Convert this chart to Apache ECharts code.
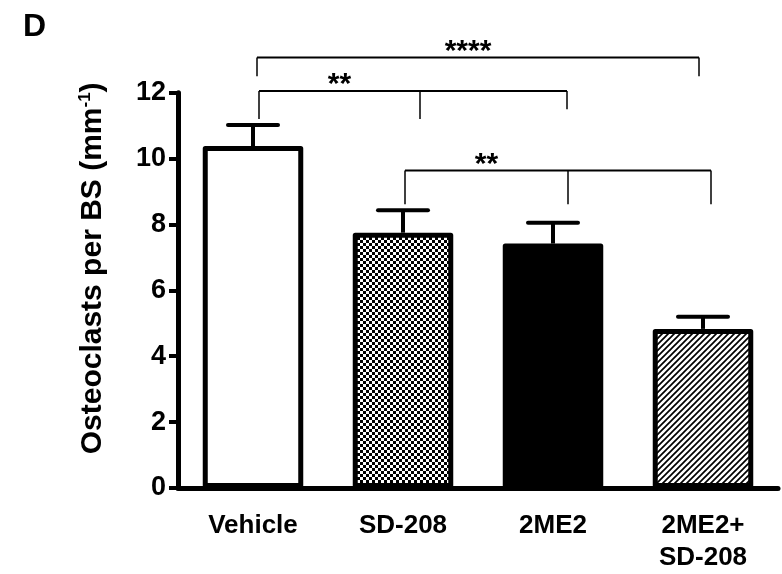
<!DOCTYPE html>
<html>
<head>
<meta charset="utf-8">
<script src="https://cdn.jsdelivr.net/npm/echarts@6/dist/echarts.min.js"></script>
<style>
  html, body { margin: 0; padding: 0; background: #fff; }
  #chart { width: 782px; height: 574px; }
</style>
</head>
<body>
<div id="chart"></div>
<script>
// data
const categories = ['Vehicle', 'SD-208', '2ME2', '2ME2+\nSD-208'];
const means = [10.38, 7.75, 7.42, 4.83];
const sems = [0.64, 0.68, 0.63, 0.37];
const yMin = 0, yMax = 12, yStep = 2;

// significance brackets: category indexes, level and drop ends in y units
const sigFrom = [0, 0, 1];
const sigTo = [3, 2, 3];
const sigMid = [null, 1, 2];
const sigLevel = [13.07, 12.05, 9.64];
const sigDrop = [[12.5, 12.5], [11.2, 11.2, 11.5], [8.61, 8.61, 8.61]];
const sigText = ['****', '**', '**'];
// small pixel nudges of the bracket feet (from, mid, to) as drawn in the original
const sigNudge = [[4, -4], [6, 17, 14], [2, 15, 8]];

const FONT = '"Liberation Sans", Arial, sans-serif';

function checker() {
  let c = document.createElement('canvas');
  c.width = 6; c.height = 6;
  let g = c.getContext('2d');
  g.fillStyle = '#fff'; g.fillRect(0, 0, 6, 6);
  g.fillStyle = '#000';
  g.fillRect(0, 0, 3, 3);
  g.fillRect(3, 3, 3, 3);
  return c;
}

function hatch() {
  let c = document.createElement('canvas');
  c.width = 6; c.height = 6;
  let g = c.getContext('2d');
  g.fillStyle = '#fff'; g.fillRect(0, 0, 6, 6);
  g.strokeStyle = '#000';
  g.lineWidth = 1.7;
  g.beginPath();
  g.moveTo(-1, 7); g.lineTo(7, -1);
  g.moveTo(-1, 1); g.lineTo(1, -1);
  g.moveTo(5, 7); g.lineTo(7, 5);
  g.stroke();
  return c;
}

const fills = ['#fff', { image: checker(), repeat: 'repeat' }, '#000', { image: hatch(), repeat: 'repeat' }];

var chart = echarts.init(document.getElementById('chart'), null, { renderer: 'canvas' });

var option = {
  animation: false,
  backgroundColor: '#fff',
  title: {
    text: 'D', left: 18, top: 6,
    textStyle: { fontFamily: FONT, fontSize: 32, fontWeight: 'bold', color: '#000' }
  },
  grid: { left: 178, right: 4, top: 92.7, bottom: 83 },
  xAxis: {
    type: 'category',
    data: categories,
    axisLine: { lineStyle: { color: '#000', width: 5 } },
    axisTick: { show: false },
    axisLabel: {
      color: '#000', fontFamily: FONT, fontSize: 26, fontWeight: 'bold',
      margin: 22, lineHeight: 32, interval: 0
    }
  },
  yAxis: {
    type: 'value',
    min: yMin, max: yMax, interval: yStep,
    name: '{a|Osteoclasts per BS (mm}{s|-1}{a|)}',
    nameLocation: 'middle',
    nameGap: 70,
    nameTextStyle: {
      padding: [0, 0, 0, 44],
      rich: {
        a: { fontFamily: FONT, fontSize: 30, fontWeight: 'bold', color: '#000' },
        s: { fontFamily: FONT, fontSize: 17, fontWeight: 'bold', color: '#000', verticalAlign: 'top', padding: [0, 0, 14, 0] }
      }
    },
    axisLine: { show: true, lineStyle: { color: '#000', width: 5 } },
    axisTick: { show: true, length: 9, lineStyle: { color: '#000', width: 4 } },
    axisLabel: { color: '#000', fontFamily: FONT, fontSize: 27, fontWeight: 'bold', margin: 12 },
    splitLine: { show: false }
  },
  series: [
    {
      type: 'bar',
      barWidth: '67%',
      data: means.map((v, i) => ({
        value: v,
        itemStyle: { color: fills[i], borderColor: '#000', borderWidth: 5, borderJoin: 'round' }
      })),
      z: 3
    },
    {
      type: 'custom',
      z: 2,
      data: means.map((v, i) => [i, v, v + sems[i]]),
      renderItem: function (params, api) {
        let base = api.coord([api.value(0), api.value(1)]);
        let top = api.coord([api.value(0), api.value(2)]);
        let half = 25;
        return {
          type: 'group',
          children: [
            { type: 'line', shape: { x1: base[0], y1: base[1], x2: top[0], y2: top[1] }, style: { stroke: '#000', lineWidth: 4 } },
            { type: 'line', shape: { x1: top[0] - half, y1: top[1], x2: top[0] + half, y2: top[1] }, style: { stroke: '#000', lineWidth: 4, lineCap: 'round' } }
          ]
        };
      }
    }
  ]
};

chart.setOption(option);

// brackets, placed through the chart's own scales
let gfx = [];
for (let k = 0; k < sigText.length; k++) {
  let cats = sigMid[k] !== null ? [sigFrom[k], sigMid[k], sigTo[k]] : [sigFrom[k], sigTo[k]];
  let xs = cats.map((c, j) => chart.convertToPixel({ xAxisIndex: 0 }, c) + sigNudge[k][j]);
  let y = chart.convertToPixel({ yAxisIndex: 0 }, sigLevel[k]);
  gfx.push({ type: 'line', shape: { x1: xs[0], y1: y, x2: xs[xs.length - 1], y2: y }, style: { stroke: '#000', lineWidth: 2 } });
  xs.forEach((x, j) => {
    let yd = chart.convertToPixel({ yAxisIndex: 0 }, sigDrop[k][j]);
    gfx.push({ type: 'line', shape: { x1: x, y1: y, x2: x, y2: yd }, style: { stroke: '#000', lineWidth: 1.5 } });
  });
  let tx = sigMid[k] !== null ? (xs[0] + xs[1]) / 2 : (xs[0] + xs[1]) / 2 - 10;
  gfx.push({
    type: 'text', x: tx, y: y - 6,
    style: { text: sigText[k], fill: '#000', font: 'bold 30px ' + FONT, align: 'center', verticalAlign: 'middle' }
  });
}
chart.setOption({ graphic: gfx });
</script>
</body>
</html>
